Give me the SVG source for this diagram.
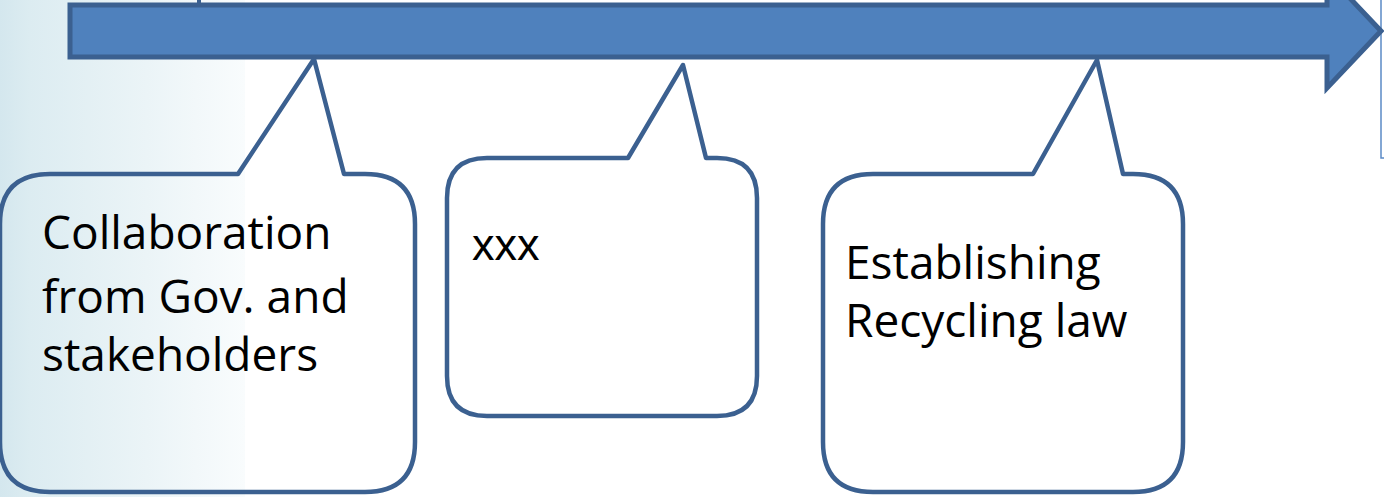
<svg xmlns="http://www.w3.org/2000/svg" width="1384" height="497" viewBox="0 0 1384 497">
<defs>
<linearGradient id="bg" x1="0" y1="0" x2="245" y2="0" gradientUnits="userSpaceOnUse">
<stop offset="0" stop-color="#d4e7ee"/>
<stop offset="0.12" stop-color="#dcecf1"/>
<stop offset="0.6" stop-color="#ebf4f7"/>
<stop offset="1" stop-color="#f9fcfd"/>
</linearGradient>
<style>
.callout{fill:none;stroke:#3b6090;stroke-width:4.5;stroke-linejoin:round}
.lbl{font-family:"Open Sans","Noto Sans",sans-serif;font-size:46px;fill:#000}
.lbl2{font-family:"Liberation Sans",Arial,sans-serif;font-size:45px;fill:#000}
</style>
</defs>
<rect x="0" y="0" width="1384" height="497" fill="#ffffff"/>
<rect x="0" y="0" width="245" height="497" fill="url(#bg)"/>
<rect x="1381" y="-5" width="20" height="163" fill="none" stroke="#5b8ac6" stroke-width="1.5"/>
<g id="connectors">
<path id="timeline" d="M70,5 L1327,5 L1327,-26 L1381,31 L1327,88 L1327,57 L70,57 Z" fill="#4f81bd" stroke="#3b6090" stroke-width="5" stroke-linejoin="miter"/>
<line x1="199" y1="-2" x2="199" y2="4" stroke="#3b6090" stroke-width="4" stroke-linecap="round"/>
</g>
<g id="node1">
<path class="callout" d="M50,174 L238,174 L314,59 L344,174 L365,174 Q415,174 415,224 L415,442 Q415,492 365,492 L50,492 Q0,492 0,442 L0,224 Q0,174 50,174 Z"/>
<text class="lbl" x="42" y="249">Collaboration</text>
<text class="lbl" x="42" y="313">from Gov. and</text>
<text class="lbl" x="42" y="371">stakeholders</text>
</g>
<g id="node2">
<path class="callout" d="M487,158 L628,158 L683,65 L706,158 L717,158 Q757,158 757,198 L757,376 Q757,416 717,416 L487,416 Q447,416 447,376 L447,198 Q447,158 487,158 Z"/>
<text class="lbl2" x="472" y="260">xxx</text>
</g>
<g id="node3">
<path class="callout" d="M873,174 L1033,174 L1097,60 L1123,174 L1133,174 Q1183,174 1183,224 L1183,442 Q1183,492 1133,492 L873,492 Q823,492 823,442 L823,224 Q823,174 873,174 Z"/>
<text class="lbl" x="845" y="279">Establishing</text>
<text class="lbl" x="845" y="337">Recycling law</text>
</g>
</svg>
